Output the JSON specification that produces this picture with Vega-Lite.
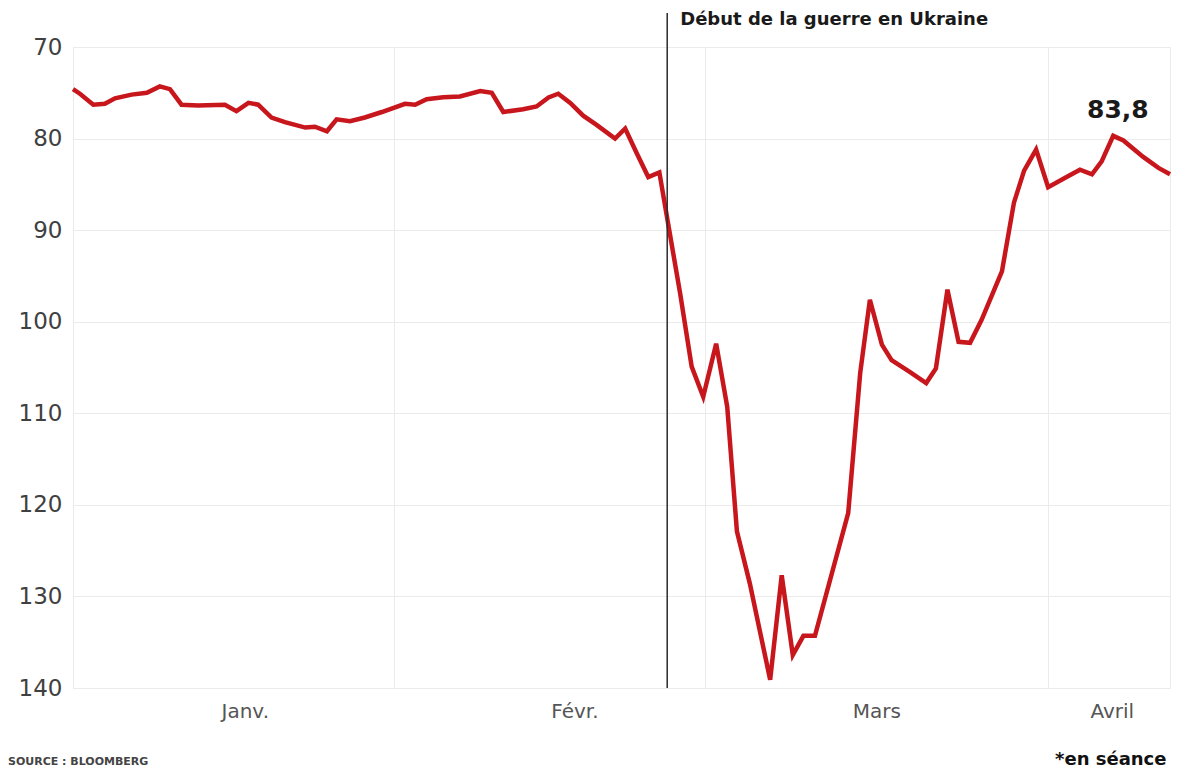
{
  "$schema": "https://vega.github.io/schema/vega-lite/v6.json",
  "autosize": "none",
  "width": 1097,
  "height": 641,
  "padding": {"left": 73, "top": 47, "right": 24, "bottom": 79},
  "background": "white",
  "config": {"view": {"stroke": "#ebebeb", "strokeWidth": 1}, "font": "DejaVu Sans"},
  "title": {"text": "SOURCE : BLOOMBERG", "orient": "bottom", "anchor": "start", "frame": "group", "fontSize": 11, "fontWeight": 600, "color": "#444444", "dx": -65, "offset": -12},
  "datasets": {
    "rate": [
      {"date": "2022-01-03T00:00", "value": 74.6},
      {"date": "2022-01-03T15:00", "value": 75.1},
      {"date": "2022-01-04T20:00", "value": 76.3},
      {"date": "2022-01-05T21:00", "value": 76.2},
      {"date": "2022-01-06T19:00", "value": 75.6},
      {"date": "2022-01-08T07:00", "value": 75.2},
      {"date": "2022-01-09T16:00", "value": 75.0},
      {"date": "2022-01-10T20:00", "value": 74.3},
      {"date": "2022-01-11T18:00", "value": 74.6},
      {"date": "2022-01-12T19:00", "value": 76.3},
      {"date": "2022-01-14T07:00", "value": 76.4},
      {"date": "2022-01-16T17:00", "value": 76.3},
      {"date": "2022-01-17T18:00", "value": 77.0},
      {"date": "2022-01-18T20:00", "value": 76.1},
      {"date": "2022-01-19T17:00", "value": 76.3},
      {"date": "2022-01-20T22:00", "value": 77.7},
      {"date": "2022-01-22T03:00", "value": 78.2},
      {"date": "2022-01-23T23:00", "value": 78.8},
      {"date": "2022-01-24T20:00", "value": 78.7},
      {"date": "2022-01-25T22:00", "value": 79.2},
      {"date": "2022-01-26T19:00", "value": 77.9},
      {"date": "2022-01-28T00:00", "value": 78.1},
      {"date": "2022-01-29T08:00", "value": 77.7},
      {"date": "2022-01-30T21:00", "value": 77.1},
      {"date": "2022-02-01T23:00", "value": 76.2},
      {"date": "2022-02-02T21:00", "value": 76.3},
      {"date": "2022-02-03T22:00", "value": 75.7},
      {"date": "2022-02-05T10:00", "value": 75.5},
      {"date": "2022-02-06T22:00", "value": 75.4},
      {"date": "2022-02-08T18:00", "value": 74.8},
      {"date": "2022-02-09T19:00", "value": 75.0},
      {"date": "2022-02-10T20:00", "value": 77.1},
      {"date": "2022-02-12T15:00", "value": 76.8},
      {"date": "2022-02-13T20:00", "value": 76.5},
      {"date": "2022-02-14T22:00", "value": 75.5},
      {"date": "2022-02-15T19:00", "value": 75.1},
      {"date": "2022-02-16T21:00", "value": 76.1},
      {"date": "2022-02-18T01:00", "value": 77.5},
      {"date": "2022-02-19T06:00", "value": 78.5},
      {"date": "2022-02-20T22:00", "value": 80.0},
      {"date": "2022-02-21T20:00", "value": 78.9},
      {"date": "2022-02-22T21:00", "value": 81.6},
      {"date": "2022-02-23T22:00", "value": 84.2},
      {"date": "2022-02-24T22:00", "value": 83.7},
      {"date": "2022-02-25T18:00", "value": 89.6},
      {"date": "2022-02-26T19:00", "value": 96.9},
      {"date": "2022-02-27T20:00", "value": 104.9},
      {"date": "2022-02-28T21:00", "value": 108.2},
      {"date": "2022-03-02T01:00", "value": 102.4},
      {"date": "2022-03-03T01:00", "value": 109.3},
      {"date": "2022-03-03T22:00", "value": 122.9},
      {"date": "2022-03-05T02:00", "value": 128.6},
      {"date": "2022-03-06T22:00", "value": 139.1},
      {"date": "2022-03-07T23:00", "value": 127.7},
      {"date": "2022-03-08T23:00", "value": 136.4},
      {"date": "2022-03-09T22:00", "value": 134.3},
      {"date": "2022-03-10T23:00", "value": 134.3},
      {"date": "2022-03-13T23:00", "value": 120.9},
      {"date": "2022-03-15T01:00", "value": 105.6},
      {"date": "2022-03-15T22:00", "value": 97.6},
      {"date": "2022-03-17T00:00", "value": 102.5},
      {"date": "2022-03-17T21:00", "value": 104.2},
      {"date": "2022-03-19T13:00", "value": 105.5},
      {"date": "2022-03-21T00:00", "value": 106.7},
      {"date": "2022-03-21T21:00", "value": 105.1},
      {"date": "2022-03-22T22:00", "value": 96.5},
      {"date": "2022-03-23T22:00", "value": 102.2},
      {"date": "2022-03-24T23:00", "value": 102.3},
      {"date": "2022-03-26T00:00", "value": 99.8},
      {"date": "2022-03-27T20:00", "value": 94.5},
      {"date": "2022-03-28T22:00", "value": 87.0},
      {"date": "2022-03-29T20:00", "value": 83.5},
      {"date": "2022-03-30T22:00", "value": 81.2},
      {"date": "2022-04-01T00:00", "value": 85.3},
      {"date": "2022-04-02T16:00", "value": 84.2},
      {"date": "2022-04-03T21:00", "value": 83.4},
      {"date": "2022-04-04T23:00", "value": 83.9},
      {"date": "2022-04-05T20:00", "value": 82.5},
      {"date": "2022-04-06T21:00", "value": 79.7},
      {"date": "2022-04-07T19:00", "value": 80.2},
      {"date": "2022-04-09T14:00", "value": 82.0},
      {"date": "2022-04-10T23:00", "value": 83.2},
      {"date": "2022-04-12T00:00", "value": 83.9}
    ],
    "events": [
      {"date": "2022-02-25T15:00", "event": "Début de la guerre en Ukraine"}
    ]
  },
  "resolve": {"axis": {"x": "independent"}},
  "layer": [
    {
      "data": {"name": "rate"},
      "mark": {"type": "line", "color": "#c8161d", "strokeWidth": 4.5, "clip": false},
      "encoding": {
        "x": {
          "field": "date", "type": "temporal",
          "scale": {"domain": [{"year": 2022, "month": 1, "date": 3}, {"year": 2022, "month": 4, "date": 12}], "nice": false},
          "axis": {
            "orient": "top",
            "values": [{"year": 2022, "month": 2, "date": 1}, {"year": 2022, "month": 3, "date": 1}, {"year": 2022, "month": 4, "date": 1}],
            "grid": true, "gridColor": "#ebebeb", "gridWidth": 1,
            "labels": false, "ticks": false, "domain": false, "title": null
          }
        },
        "y": {
          "field": "value", "type": "quantitative",
          "scale": {"domain": [70, 140], "reverse": true, "nice": false, "zero": false},
          "axis": {
            "values": [70, 80, 90, 100, 110, 120, 130, 140],
            "grid": true, "gridColor": "#ebebeb", "gridWidth": 1,
            "ticks": false, "domain": false, "title": null,
            "labelFontSize": 23, "labelColor": "#404040", "labelPadding": 11, "labelFont": "DejaVu Sans"
          }
        }
      }
    },
    {
      "data": {"name": "events"},
      "mark": {"type": "rule", "color": "#2a2a2a", "strokeWidth": 1.5},
      "encoding": {
        "x": {
          "field": "date", "type": "temporal",
          "axis": {
            "orient": "bottom",
            "values": [{"year": 2022, "month": 1, "date": 18, "hours": 12}, {"year": 2022, "month": 2, "date": 17, "hours": 6}, {"year": 2022, "month": 3, "date": 16, "hours": 12}, {"year": 2022, "month": 4, "date": 6, "hours": 18}],
            "labelExpr": "['Janv.', 'Févr.', 'Mars', 'Avril'][month(datum.value)]",
            "grid": false, "ticks": false, "domain": false,
            "labelFontSize": 20, "labelColor": "#555555", "labelPadding": 13, "labelFont": "DejaVu Sans",
            "title": "*en séance", "titleFontSize": 18, "titleFontWeight": "bold", "titleColor": "#111111",
            "titleAnchor": "end", "titleAlign": "right", "titleX": 1093, "titleY": 76, "titleBaseline": "alphabetic"
          }
        },
        "y": {"datum": 66.3, "type": "quantitative"},
        "y2": {"datum": 140}
      }
    },
    {
      "data": {"name": "events"},
      "mark": {"type": "text", "align": "left", "baseline": "middle", "dx": 13, "fontSize": 18, "fontWeight": "bold", "color": "#1a1a1a", "font": "DejaVu Sans"},
      "encoding": {
        "x": {"field": "date", "type": "temporal", "axis": null},
        "y": {"datum": 67.1, "type": "quantitative"},
        "text": {"field": "event"}
      }
    },
    {
      "data": {"values": [{"label": "83,8"}]},
      "mark": {"type": "text", "align": "center", "baseline": "middle", "fontSize": 25, "fontWeight": "bold", "color": "#1a1a1a", "font": "DejaVu Sans"},
      "encoding": {
        "x": {"datum": {"year": 2022, "month": 4, "date": 7, "hours": 7}, "type": "temporal", "axis": null},
        "y": {"datum": 76.9, "type": "quantitative"},
        "text": {"field": "label"}
      }
    }
  ]
}
